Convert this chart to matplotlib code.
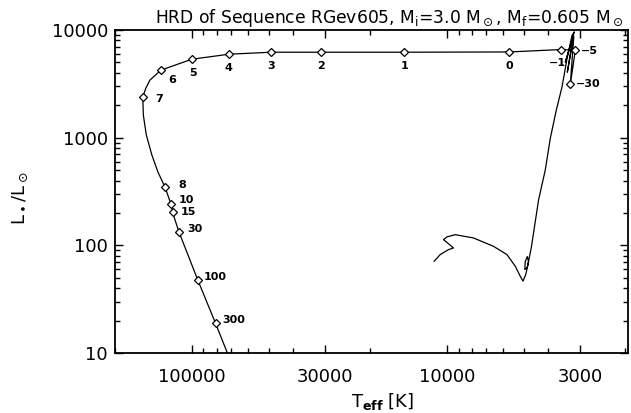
import numpy as np
import matplotlib
matplotlib.use("Agg")
import matplotlib.pyplot as plt
from matplotlib.ticker import FixedLocator, NullFormatter

# ---------------- data ----------------
# evolutionary track (Teff [K], L [Lsun]) in time order
track_teff = [11215, 10624, 9856, 9422, 10311, 10000, 9277, 7865, 6564, 5814,
              5395, 5156, 5031, 4907, 4784, 4841, 4929, 4951, 4841, 4668,
              4370, 4114, 3932, 3724, 3537, 3381, 3231, 3165,
              3434, 3208, 3372, 3180,
              3282, 3137, 3569, 5694, 14712, 31130, 48930, 71520, 99910,
              132230, 146000, 151400, 155600, 154880, 150740, 143420, 135840,
              127500, 120780, 118960, 112370, 94890, 80650, 71400]
track_lum = [71.1, 82.0, 91.2, 94.6, 113, 119.7, 125.6, 117.1, 97.9, 82.0,
             64.0, 51.6, 46.5, 53.6, 70.6, 78.6, 70.6, 59.6, 62.2, 95.2,
             265, 502, 987, 1805, 2965, 5433, 8935, 9615,
             5023, 8375, 4055, 8745,
             3122, 6486, 6584, 6252, 6217, 6217, 6217, 5957, 5355,
             4236, 3420, 2884, 2382, 1623, 1059, 692, 481,
             349.5, 243.3, 202.1, 134, 48.1, 18.8, 9.1]

# time markers (in units of 1000 yr relative to the reference point)
mark_labels = ["-30", "-5", "-1", "0", "1", "2", "3", "4", "5", "6", "7",
               "8", "10", "15", "30", "100", "300"]
mark_teff = [3282, 3137, 3569, 5694, 14712, 31130, 48930, 71520, 99910,
             132230, 155600, 127500, 120780, 118960, 112370, 94890, 80650]
mark_lum = [3122, 6486, 6584, 6252, 6217, 6217, 6217, 5957, 5355,
            4236, 2382, 349.5, 243.3, 202.1, 134, 48.1, 18.8]

xtick_vals = [100000, 30000, 10000, 3000]
ytick_vals = [10, 100, 1000, 10000]

# ---------------- style ----------------
# label offsets in pixels (dx right, dy down) and horizontal alignment
label_style = {
    "-30": (6, 0, "left"), "-5": (6, 1, "left"), "-1": (-4, 13, "center"),
    "0": (0, 14, "center"), "1": (0, 14, "center"), "2": (0, 14, "center"),
    "3": (0, 14, "center"), "4": (0, 14, "center"), "5": (1, 14, "center"),
    "6": (11, 10, "center"), "7": (12, 2, "left"), "8": (13, -2, "left"),
    "10": (8, -4, "left"), "15": (8, 0, "left"), "30": (8, -3, "left"),
    "100": (6, -3, "left"), "300": (7, -3, "left"),
}

plt.rcParams['font.family'] = ['DejaVu Sans']
plt.rcParams['mathtext.fontset'] = 'dejavusans'

W, H = 631, 413
fig = plt.figure(figsize=(W / 100, H / 100), dpi=100)
ax = fig.add_axes([115 / W, 1 - 353 / H, (628 - 115) / W, (353 - 30) / H])

ax.plot(track_teff, track_lum, color='black', lw=0.9, zorder=2)
ax.plot(mark_teff, mark_lum, linestyle='none', marker='D', ms=4.2,
        mfc='white', mec='black', mew=0.9, zorder=3)

px2pt = 0.72
for lab, t, l in zip(mark_labels, mark_teff, mark_lum):
    dx, dy, ha = label_style[lab]
    ax.annotate(lab.replace("-", "\u2212"), (t, l),
                xytext=(dx * px2pt, -dy * px2pt), textcoords='offset points',
                ha=ha, va='center', fontsize=8, fontweight='bold', zorder=4)

ax.set_xscale('log')
ax.set_yscale('log')
ax.set_xlim(200000, 1950)
ax.set_ylim(10, 10000)

ax.xaxis.set_major_locator(FixedLocator(xtick_vals))
ax.set_xticklabels([str(v) for v in xtick_vals])
minor_x = [m * 10 ** e for e in range(3, 6) for m in range(1, 10)]
ax.xaxis.set_minor_locator(FixedLocator(minor_x))
ax.xaxis.set_minor_formatter(NullFormatter())
ax.yaxis.set_major_locator(FixedLocator(ytick_vals))
ax.set_yticklabels([str(v) for v in ytick_vals])
ax.yaxis.set_minor_formatter(NullFormatter())

ax.tick_params(which='both', direction='in', top=True, right=True,
               width=1.0, labelsize=13)
ax.tick_params(which='major', length=5.5)
ax.tick_params(which='minor', length=3.5)
ax.tick_params(axis='x', which='major', pad=11)
ax.tick_params(axis='y', which='major', pad=5)
for s in ax.spines.values():
    s.set_linewidth(1.3)

fig.text(389 / W, 1 - 18 / H,
         r'HRD of Sequence RGev605, M$_\mathrm{i}$=3.0 M$_\odot$, M$_\mathrm{f}$=0.605 M$_\odot$',
         ha='center', va='center', fontsize=12.3)
fig.text(383 / W, 1 - 401 / H, r'T$_{\mathbf{eff}}$ [K]', ha='center',
         va='center', fontsize=13)
fig.text(20 / W, 1 - 198 / H, r'L$_\bullet$/L$_\odot$', ha='center',
         va='center', rotation=90, fontsize=13)

fig.savefig('out.png', dpi=100)
